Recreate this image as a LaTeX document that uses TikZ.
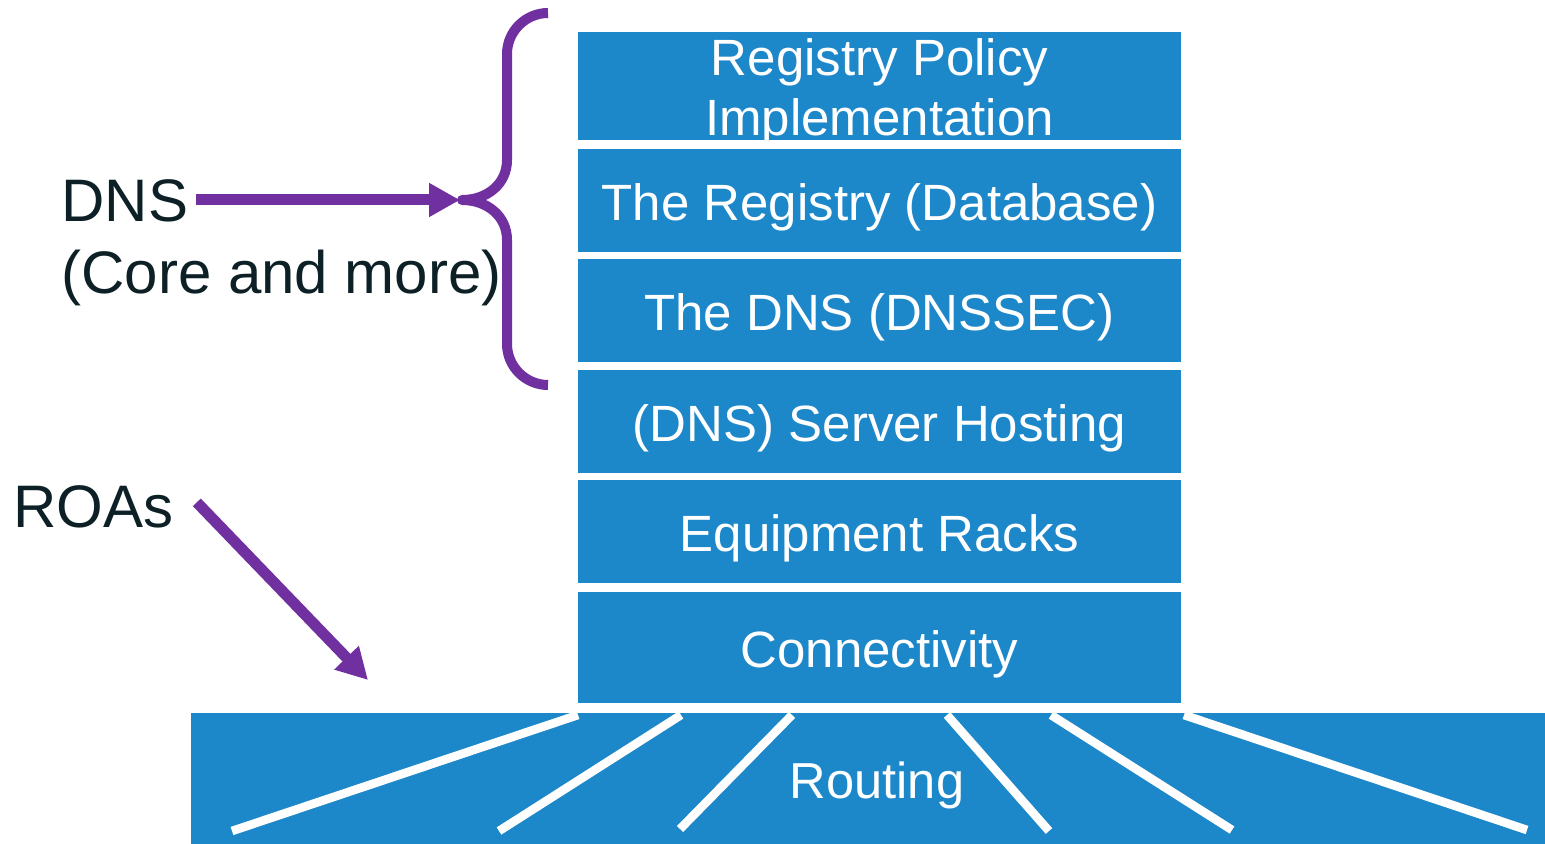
\documentclass[tikz,border=0pt]{standalone}
\usepackage{fontspec}
\setmainfont{Liberation Sans}
\usetikzlibrary{arrows.meta}
\definecolor{boxblue}{HTML}{1C87C9}
\definecolor{purp}{HTML}{7030A0}
\definecolor{txtdark}{HTML}{0C2026}
\begin{document}
\begin{tikzpicture}[x=0.5pt,y=-0.5pt,
  layer/.style={fill=boxblue, draw=none, minimum width=301.5pt, inner sep=0pt, text=white,
    font=\fontsize{25.5pt}{30pt}\selectfont, text height=20.3pt, text depth=0pt},
  side/.style={text=txtdark, font=\fontsize{30pt}{35pt}\selectfont, inner sep=0pt, anchor=base west},
  parr/.style={draw=purp, line width=5.5pt, -{Triangle[length=15.5pt,width=16pt]}},
  bracestyle/.style={draw=purp, line width=5pt, line join=round},
  ray/.style={draw=white, line width=4.3pt}]
\useasboundingbox (0,0) rectangle (1545,844);
% routing band
\node[fill=boxblue, minimum width=677pt, minimum height=65.5pt, inner sep=0pt] (band) at (868,778.5) {};
\draw[ray] (578,715) -- (232,831);
\draw[ray] (681,715) -- (499,831);
\draw[ray] (792,715) -- (680,829);
\draw[ray] (947,715) -- (1049,831);
\draw[ray] (1051,715) -- (1232,830);
\draw[ray] (1184,715) -- (1527,830);
\node[text=white, font=\fontsize{25.3pt}{30pt}\selectfont, inner sep=0pt, text height=18.1pt, text depth=0pt] (routing) at (877,780.5) {Routing};
% stack
\node[layer, minimum height=54pt, align=center, text height=49.8pt, text depth=0pt] (b1) at (879.5,86) {Registry Policy\\Implementation};
\node[layer, minimum height=51.5pt] (b2) at (879.5,200.5) {The Registry (Database)};
\node[layer, minimum height=51.5pt] (b3) at (879.5,310.5) {The DNS (DNSSEC)};
\node[layer, minimum height=51.5pt] (b4) at (879.5,421.5) {(DNS) Server Hosting};
\node[layer, minimum height=51.5pt] (b5) at (879.5,531.5) {Equipment Racks};
\node[layer, minimum height=55.5pt] (b6) at (879.5,647.5) {Connectivity};
% side labels
\node[side] (dns) at (61,222) {DNS};
\node[side] (core) at (61,293) {(Core and more)};
\node[side] (roas) at (13,527) {ROAs};
% brace
\coordinate (bracetip) at (462,200);
\coordinate (roastip) at (368,680);
\draw[bracestyle] (548,13) .. controls (525.5,13) and (507,31.5) .. (507,54)
  -- (507,160) .. controls (507,184) and (487,200) .. (bracetip)
  .. controls (487,200) and (507,216) .. (507,240)
  -- (507,344) .. controls (507,366.5) and (525.5,385) .. (548,385);
% arrows
\draw[parr, shorten >=1pt] ([xshift=4pt]dns.east |- bracetip) -- (bracetip);
\draw[parr] ([shift={(11.5pt,2pt)}]roas.east) -- (roastip);
\end{tikzpicture}
\end{document}
